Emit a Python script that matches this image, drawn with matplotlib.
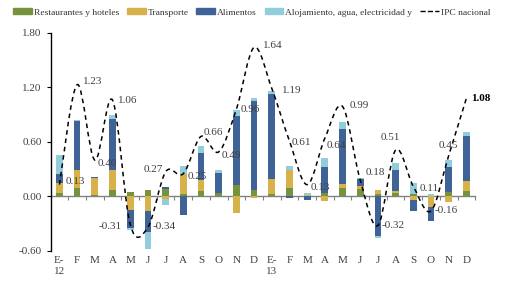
import numpy as np
import matplotlib.pyplot as plt
from matplotlib.path import Path
from matplotlib.patches import PathPatch, Patch
from matplotlib.lines import Line2D

plt.rcParams['font.family'] = ['Liberation Serif', 'DejaVu Serif']

# data (contributions to monthly CPI)
months = ["E-\n12", "F", "M", "A", "M", "J", "J", "A", "S", "O", "N", "D",
          "E-\n13", "F", "M", "A", "M", "J", "J", "A", "S", "O", "N", "D"]
rest = [0.04, 0.095, 0.015, 0.07, 0.05, 0.075, 0.08, 0.03, 0.06, 0.035, 0.13, 0.066,
        0.03, 0.09, 0.01, 0.04, 0.095, 0.08, 0.03, 0.04, 0.03, 0.01, 0.045, 0.055]
trans = [0.11, 0.195, 0.19, 0.22, -0.145, -0.16, -0.03, 0.22, 0.12, 0.0, -0.18, -0.015,
         0.16, 0.205, 0.01, -0.05, 0.04, 0.04, 0.04, 0.02, -0.04, -0.12, -0.06, 0.115]
alim = [0.10, 0.54, 0.01, 0.56, -0.20, -0.23, 0.025, -0.20, 0.30, 0.22, 0.76, 0.98,
        0.94, -0.02, -0.035, 0.28, 0.61, 0.07, -0.44, 0.23, -0.115, -0.15, 0.28, 0.49]
aloj = [0.21, 0.01, 0.0, 0.05, -0.02, -0.19, -0.065, 0.08, 0.08, 0.04, 0.06, 0.035,
        0.035, 0.045, 0.02, 0.10, 0.075, 0.01, -0.02, 0.08, 0.12, 0.02, 0.075, 0.045]
ipc = [0.13, 1.23, 0.40, 1.06, -0.31, -0.34, 0.27, 0.25, 0.66, 0.49, 0.96, 1.64,
       1.19, 0.61, 0.13, 0.64, 0.99, 0.18, -0.32, 0.51, 0.11, -0.16, 0.45, 1.08]

names = ["Restaurantes y hoteles", "Transporte", "Alimentos",
         "Alojamiento, agua, electricidad y", "IPC nacional"]
colors = ["#76923C", "#D7B24B", "#3F6297", "#92CDDC"]

# label offsets in pixels (dx, dy, ha)
lab_off = [(6, 3, 'left'), (6, 3, 'left'), (3, -3, 'left'), (5, 0, 'left'),
           (-8, -2, 'right'), (5, 1, 'left'), (-3, 2, 'right'), (4, -3, 'left'),
           (3, 4, 'left'), (3, -4, 'left'), (4, 0, 'left'), (9, 2, 'left'),
           (10, -2, 'left'), (2, -2, 'left'), (3, -3, 'left'), (2, -7, 'left'),
           (7, 1, 'left'), (5, 8, 'left'), (4, 0, 'left'), (-5, 13, 'center'),
           (6, -2, 'left'), (4, 0, 'left'), (0, 10, 'center'), (5, 0, 'left')]

fig = plt.figure(figsize=(5.11, 2.81), dpi=100)
ax = fig.add_axes([0.099, 0.107, 0.831, 0.776])

x = np.arange(len(months))
pos = np.zeros(len(x))
neg = np.zeros(len(x))
for vals, c in zip([rest, trans, alim, aloj], colors):
    v = np.array(vals)
    b = np.where(v >= 0, pos, neg)
    ax.bar(x, v, 0.38, bottom=b, color=c, zorder=2)
    pos += np.clip(v, 0, None)
    neg += np.clip(v, None, 0)

# smoothed IPC line (catmull-rom -> bezier)
pts = np.column_stack([x, ipc]).astype(float)
n = len(pts)
verts = [pts[0]]
codes = [Path.MOVETO]
for i in range(n - 1):
    p0 = pts[max(i - 1, 0)]
    p1 = pts[i]
    p2 = pts[i + 1]
    p3 = pts[min(i + 2, n - 1)]
    verts += [p1 + (p2 - p0) / 6, p2 - (p3 - p1) / 6, p2]
    codes += [Path.CURVE4] * 3
ax.add_patch(PathPatch(Path(verts, codes), fill=False, color='black',
                       lw=1.1, ls=(0, (3, 2.5)), zorder=3))

for i, (v, (dx, dy, ha)) in enumerate(zip(ipc, lab_off)):
    last = i == n - 1
    ax.annotate(f"{v:.2f}", (i, v), xytext=(dx, dy), textcoords='offset pixels',
                ha=ha, va='center', fontsize=8,
                color='black' if last else '#404040',
                fontweight='bold' if last else 'normal', zorder=4)

ax.set_xlim(-0.5, n - 0.5)
ax.set_ylim(-0.6, 1.8)
ax.set_yticks([-0.6, 0, 0.6, 1.2, 1.8])
ax.set_yticklabels([f"{t:.2f}" for t in [-0.6, 0, 0.6, 1.2, 1.8]])
ax.set_xticks(x)
ax.set_xticklabels(months)
ax.tick_params(axis='x', length=0, pad=4, labelsize=8, labelcolor='#404040')
ax.tick_params(axis='y', length=3, width=0.8, labelsize=8, labelcolor='#404040')
for s in ['top', 'right', 'bottom']:
    ax.spines[s].set_visible(False)
ax.spines['left'].set_linewidth(1.0)

# zero line with category ticks
zax = ax.secondary_xaxis(0.6 / 2.4)
zax.set_xticks(np.arange(-0.5, n, 1.0))
zax.set_xticklabels([])
zax.tick_params(length=3, width=0.8, color='#808080')
zax.spines['bottom'].set_color('#808080')
zax.spines['bottom'].set_linewidth(1.0)

handles = [Patch(color=c) for c in colors] + [Line2D([], [], color='black', ls='--', lw=1)]
fig.legend(handles, names, loc='upper left', bbox_to_anchor=(0.015, 0.99), ncol=5,
           frameon=False, fontsize=6.8, handlelength=2, handleheight=0.5,
           columnspacing=0.8, handletextpad=0.2, borderaxespad=0.2,
           labelcolor='#333333')

fig.savefig("out.png", dpi=100)
